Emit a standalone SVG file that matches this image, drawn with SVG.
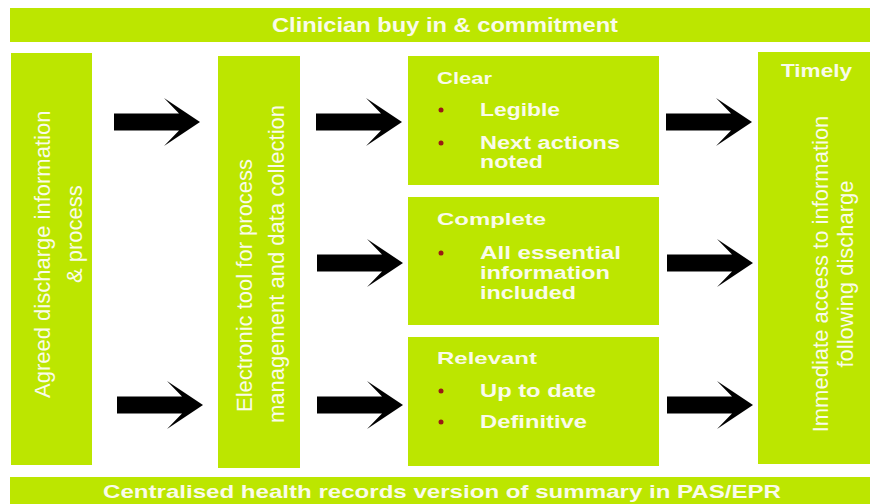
<svg xmlns="http://www.w3.org/2000/svg" xmlns:xlink="http://www.w3.org/1999/xlink" width="870" height="504" viewBox="0 0 870 504">
  <style>
    .box { fill: #BCE600; }
    .t { font-family: "Liberation Sans", Arial, sans-serif; fill: #FAFBEA; }
    .hb { font-weight: bold; }
    .v { font-size: 22px; }
    .bul { fill: #9A1B14; }
    .arrow { fill: #000; }
  </style>
  <defs>
    <!-- block arrow, tip at the origin -->
    <path id="blockArrow" d="M-86,-8.5 L-21,-8.5 L-36,-24 L0,0 L-36,24 L-21,8.5 L-86,8.5 Z"/>
  </defs>

  <rect width="870" height="504" fill="#FFFFFF"/>

  <!-- header band -->
  <g id="clinician-buy-in">
    <rect class="box" x="10" y="8" width="860" height="34"/>
    <text class="t hb" x="272" y="32" font-size="20" textLength="346" lengthAdjust="spacingAndGlyphs">Clinician buy in &amp; commitment</text>
  </g>

  <!-- column 1 -->
  <g id="agreed-discharge">
    <rect class="box" x="11" y="53" width="81" height="412"/>
    <text class="t v" transform="translate(50,398) rotate(-90)">Agreed discharge information</text>
    <text class="t v" transform="translate(82,283) rotate(-90)">&amp; process</text>
  </g>

  <!-- column 2 -->
  <g id="electronic-tool">
    <rect class="box" x="218" y="56" width="82" height="412"/>
    <text class="t v" transform="translate(252,412) rotate(-90)">Electronic tool for process</text>
    <text class="t v" transform="translate(284,423) rotate(-90)">management and data collection</text>
  </g>

  <!-- column 3 -->
  <g id="clear">
    <rect class="box" x="408" y="56" width="251" height="129"/>
    <text class="t hb" x="437" y="84" font-size="17" textLength="55" lengthAdjust="spacingAndGlyphs">Clear</text>
    <circle class="bul" cx="441" cy="110" r="2.5"/>
    <text class="t hb" x="480" y="116" font-size="18" textLength="80" lengthAdjust="spacingAndGlyphs">Legible</text>
    <circle class="bul" cx="441" cy="143" r="2.5"/>
    <text class="t hb" x="480" y="149" font-size="18" textLength="140" lengthAdjust="spacingAndGlyphs">Next actions</text>
    <text class="t hb" x="480" y="168" font-size="18" textLength="63" lengthAdjust="spacingAndGlyphs">noted</text>
  </g>

  <g id="complete">
    <rect class="box" x="408" y="197" width="251" height="128"/>
    <text class="t hb" x="437" y="225" font-size="17" textLength="109" lengthAdjust="spacingAndGlyphs">Complete</text>
    <circle class="bul" cx="441" cy="253" r="2.5"/>
    <text class="t hb" x="480" y="259" font-size="18" textLength="141" lengthAdjust="spacingAndGlyphs">All essential</text>
    <text class="t hb" x="480" y="279" font-size="18" textLength="130" lengthAdjust="spacingAndGlyphs">information</text>
    <text class="t hb" x="480" y="299" font-size="18" textLength="96" lengthAdjust="spacingAndGlyphs">included</text>
  </g>

  <g id="relevant">
    <rect class="box" x="408" y="337" width="251" height="129"/>
    <text class="t hb" x="437" y="364" font-size="17" textLength="100" lengthAdjust="spacingAndGlyphs">Relevant</text>
    <circle class="bul" cx="441" cy="391" r="2.5"/>
    <text class="t hb" x="480" y="397" font-size="18" textLength="116" lengthAdjust="spacingAndGlyphs">Up to date</text>
    <circle class="bul" cx="441" cy="422" r="2.5"/>
    <text class="t hb" x="480" y="428" font-size="18" textLength="107" lengthAdjust="spacingAndGlyphs">Definitive</text>
  </g>

  <!-- column 4 -->
  <g id="timely">
    <rect class="box" x="758" y="52" width="112" height="412"/>
    <text class="t hb" x="781" y="77" font-size="19" textLength="71" lengthAdjust="spacingAndGlyphs">Timely</text>
    <text class="t v" text-anchor="middle" transform="translate(828,274) rotate(-90)">Immediate access to information</text>
    <text class="t v" text-anchor="middle" transform="translate(853,274) rotate(-90)">following discharge</text>
  </g>

  <!-- footer band -->
  <g id="centralised-records">
    <rect class="box" x="10" y="477" width="860" height="27"/>
    <text class="t hb" x="103" y="498" font-size="19" textLength="678" lengthAdjust="spacingAndGlyphs">Centralised health records version of summary in PAS/EPR</text>
  </g>

  <!-- connectors -->
  <g id="connectors" class="arrow">
    <use xlink:href="#blockArrow" transform="translate(200,122)"/>
    <use xlink:href="#blockArrow" transform="translate(203,405)"/>
    <use xlink:href="#blockArrow" transform="translate(402,122)"/>
    <use xlink:href="#blockArrow" transform="translate(403,263)"/>
    <use xlink:href="#blockArrow" transform="translate(403,405)"/>
    <use xlink:href="#blockArrow" transform="translate(752,122)"/>
    <use xlink:href="#blockArrow" transform="translate(753,263)"/>
    <use xlink:href="#blockArrow" transform="translate(753,405)"/>
  </g>
</svg>
